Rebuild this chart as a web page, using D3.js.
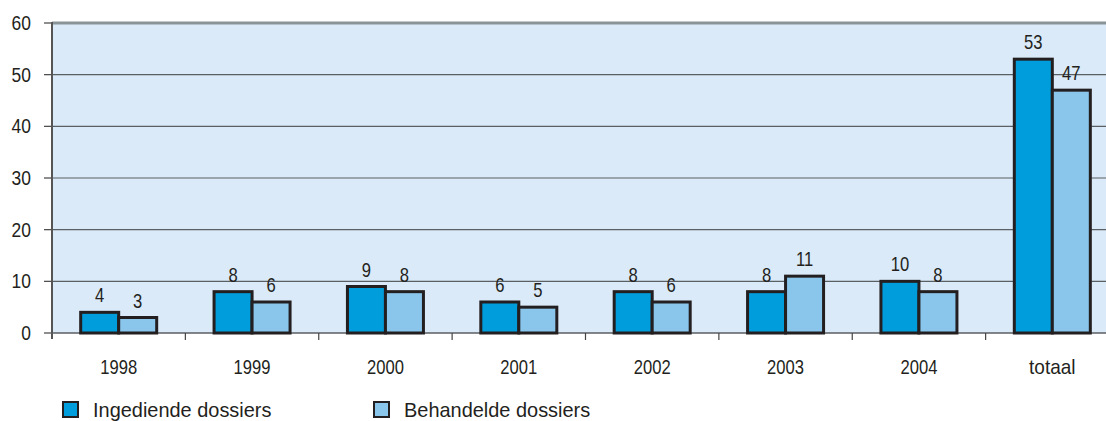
<!DOCTYPE html>
<head>
    <meta charset="utf-8">
    <title>Dossiers</title>
    <style>
        body { margin: 0; background: #fff; }
        text { font-family: "Liberation Sans", Arial, sans-serif; fill: #231f20; }
    </style>
</head>
<body>
<svg width="1106" height="421"></svg>
<script src="https://d3js.org/d3.v7.min.js"></script>
<script>

// data
var years = ['1998', '1999', '2000', '2001', '2002', '2003', '2004', 'totaal'];
var ingediend = [4, 8, 9, 6, 8, 8, 10, 53];
var behandeld = [3, 6, 8, 5, 6, 11, 8, 47];
var yTicks = [0, 10, 20, 30, 40, 50, 60];
var seriesNames = ['Ingediende dossiers', 'Behandelde dossiers'];

var svg = d3.select('svg');
var colors = ['#009ddc', '#8ac6ec'];

var plotLeft = 52, plotTop = 23, plotBottom = 333;

// fake a condensed face: digits get squeezed more than words
var squeezeOf = t => /^\d+$/.test(String(t)) ? 0.83 : 0.95;

var x = d3.scaleBand()
    .domain(years)
    .range([plotLeft, 1119]); // chart runs a bit past the right edge

var y = d3.scaleLinear()
    .domain([0, 60])
    .range([plotBottom, plotTop]);

// place a narrowed text at (px, py)
function narrowText(sel, px, py, txt) {
    return sel
        .text(txt)
        .attr('transform', (d, i) => `translate(${px(d, i)},${py(d, i)}) scale(${squeezeOf(txt(d, i))},1)`);
}

// plot background
svg.append('rect')
    .attr('x', plotLeft).attr('y', plotTop)
    .attr('width', 1106 - plotLeft).attr('height', plotBottom - plotTop)
    .attr('fill', '#daeaf8');

// grid lines
svg.selectAll('.grid')
    .data(yTicks.slice(1, -1))
    .enter().append('line')
        .attr('x1', plotLeft).attr('x2', 1106)
        .attr('y1', d => y(d)).attr('y2', d => y(d))
        .attr('stroke', '#5a5f63').attr('stroke-width', 1.2);

// top border
svg.append('line')
    .attr('x1', plotLeft).attr('x2', 1106)
    .attr('y1', plotTop).attr('y2', plotTop)
    .attr('stroke', '#8a9398').attr('stroke-width', 3);

// y ticks + labels
svg.selectAll('.ytick')
    .data(yTicks)
    .enter().append('line')
        .attr('x1', plotLeft - 8).attr('x2', plotLeft)
        .attr('y1', d => y(d)).attr('y2', d => y(d))
        .attr('stroke', '#444').attr('stroke-width', 1.2);

narrowText(svg.selectAll('.ylab')
    .data(yTicks)
    .enter().append('text')
        .attr('text-anchor', 'end')
        .attr('font-size', 21),
    () => 31, d => y(d) + 7, d => d);

// left axis
svg.append('line')
    .attr('x1', plotLeft).attr('x2', plotLeft)
    .attr('y1', plotTop - 1).attr('y2', plotBottom + 6)
    .attr('stroke', '#555').attr('stroke-width', 2);

// x axis baseline
svg.append('line')
    .attr('x1', plotLeft).attr('x2', 1106)
    .attr('y1', plotBottom).attr('y2', plotBottom)
    .attr('stroke', '#5a5f63').attr('stroke-width', 1.5);

// x ticks at category boundaries
svg.selectAll('.xtick')
    .data(years.slice(1))
    .enter().append('line')
        .attr('x1', d => x(d)).attr('x2', d => x(d))
        .attr('y1', plotBottom).attr('y2', plotBottom + 7)
        .attr('stroke', '#444').attr('stroke-width', 1.2);

// category labels
narrowText(svg.selectAll('.xlab')
    .data(years)
    .enter().append('text')
        .attr('text-anchor', 'middle')
        .attr('font-size', 20),
    d => x(d) + x.bandwidth() / 2, () => 374, d => d);

// bars
var barW = 38;
[ingediend, behandeld].forEach((vals, s) => {
    var g = svg.append('g');
    var bx = d => x(d) + x.bandwidth() / 2 + (s === 0 ? -barW : 0);
    g.selectAll('rect')
        .data(years)
        .enter().append('rect')
            .attr('x', bx)
            .attr('y', (d, i) => y(vals[i]))
            .attr('width', barW)
            .attr('height', (d, i) => plotBottom - y(vals[i]))
            .attr('fill', colors[s])
            .attr('stroke', '#231f20')
            .attr('stroke-width', 3);
    narrowText(g.selectAll('text')
        .data(years)
        .enter().append('text')
            .attr('text-anchor', 'middle')
            .attr('font-size', 20),
        d => bx(d) + barW / 2, (d, i) => y(vals[i]) - 10, (d, i) => vals[i]);
});

// legend
var legX = [63, 374];
seriesNames.forEach((name, i) => {
    svg.append('rect')
        .attr('x', legX[i]).attr('y', 402)
        .attr('width', 15).attr('height', 15)
        .attr('fill', colors[i])
        .attr('stroke', '#231f20').attr('stroke-width', 2);
    svg.append('text')
        .attr('transform', `translate(${legX[i] + 30},417) scale(0.95,1)`)
        .attr('font-size', 21)
        .text(name);
});

</script>
</body>
